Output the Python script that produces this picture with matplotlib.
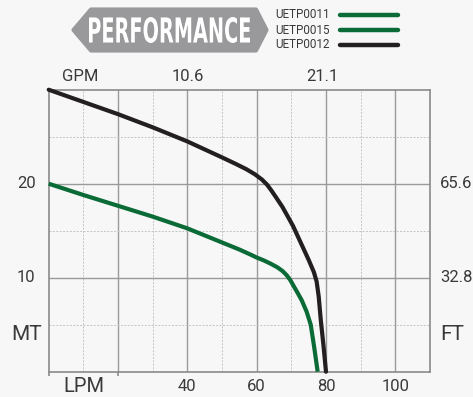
"""Pump performance chart: head (m / ft) against flow (LPM / GPM)."""

import matplotlib.pyplot as plt
from matplotlib.patches import Polygon, PathPatch
from matplotlib.textpath import TextPath
from matplotlib.font_manager import FontProperties
from matplotlib.transforms import Affine2D

# flow (LPM) and head (m)
flow_0015 = [0, 10, 20, 30, 40, 50, 55, 58, 60, 62, 64, 66, 67.5, 68.7, 69.7,
             70.7, 71.8, 73, 74.4, 75.6, 76.6, 77.6]
head_0015 = [20.0, 18.8, 17.65, 16.5, 15.25, 13.75, 13.0, 12.5, 12.15, 11.85, 11.5,
             11.1, 10.7, 10.25, 9.75, 9.1, 8.4, 7.6, 6.4, 5.0, 2.6, 0.0]
flow_0012 = [0, 10, 20, 30, 40, 50, 54, 57, 59.5, 61.5, 63, 64.2, 65.5, 67.4,
             69, 70.5, 72, 73.5, 75, 76.5, 77.3, 77.9, 78.5, 79.3, 80]
head_0012 = [30.0, 28.7, 27.4, 26.0, 24.5, 22.8, 22.1, 21.55, 21.0, 20.45, 19.9,
             19.3, 18.6, 17.55, 16.5, 15.5, 14.3, 13.1, 11.9, 10.6, 9.6, 8.0,
             5.5, 2.7, 0.0]

legend_labels = ["UETP0011", "UETP0015", "UETP0012"]
legend_colors = ["#0b6b37", "#0b6b37", "#231f20"]

lpm_ticks = [10, 40, 60, 80, 100]
lpm_labels = ["LPM", "40", "60", "80", "100"]
gpm_ticks = [9, 40, 79]
gpm_labels = ["GPM", "10.6", "21.1"]
mt_ticks = [20, 10, 4]
mt_labels = ["20", "10", "MT"]
ft_labels = ["65.6", "32.8", "FT"]

GREEN = "#0b6b37"
BLACK = "#231f20"
INK = "#3a3a3a"
BG = "#f7f7f7"

plt.rcParams["font.family"] = ["Roboto", "DejaVu Sans"]

fig = plt.figure(figsize=(4.73, 3.97), dpi=100, facecolor=BG)
ax = fig.add_axes([0.103, 0.0637, 0.806, 0.7103])
ax.set_facecolor(BG)
ax.set_xlim(0, 110)
ax.set_ylim(0, 30)

for x in range(10, 110, 20):
    ax.axvline(x, color="#c4c4c4", lw=0.7, ls=(0, (2, 1.5)), zorder=1)
for x in range(20, 110, 20):
    ax.axvline(x, color="#9a9a9a", lw=1.0, zorder=1)
for y in (5, 15, 25):
    ax.axhline(y, color="#c4c4c4", lw=0.7, ls=(0, (2, 1.5)), zorder=1)
for y in (10, 20):
    ax.axhline(y, color="#9a9a9a", lw=1.0, zorder=1)

for spine in ax.spines.values():
    spine.set_color("#8a8a8a")
    spine.set_linewidth(1.2)

ax.set_xticks([0, 20])
ax.set_xticklabels([])
ax.set_yticks([])
ax.tick_params(axis="x", length=3, color="#8a8a8a", width=1.2)

ax.plot(flow_0015, head_0015, color=GREEN, lw=3.0, solid_capstyle="butt",
        solid_joinstyle="round", clip_on=False, zorder=3)
ax.plot(flow_0012, head_0012, color=BLACK, lw=3.0, solid_capstyle="round",
        solid_joinstyle="round", clip_on=False, zorder=3)

for x, lab in zip(lpm_ticks, lpm_labels):
    ax.text(x, -1.6, lab, ha="center", va="center", color=INK,
            fontsize=14.5 if lab == "LPM" else 12)
for x, lab in zip(gpm_ticks, gpm_labels):
    ax.text(x, 31.4, lab, ha="center", va="center", color=INK, fontsize=12)
for y, lab in zip(mt_ticks, mt_labels):
    ax.text(-6.5, y, lab, ha="center", va="center", color=INK,
            fontsize=15 if lab == "MT" else 12)
for y, lab in zip(mt_ticks, ft_labels):
    ax.text(112.9, y, lab, ha="left", va="center", color=INK,
            fontsize=15 if lab == "FT" else 12)

# header banner and legend, drawn in pixel coordinates
ov = fig.add_axes([0, 0, 1, 1])
ov.set_xlim(0, 473)
ov.set_ylim(397, 0)
ov.axis("off")
ov.patch.set_alpha(0)

banner = Polygon([(73.5, 30), (91, 9.5), (256, 9.5), (266.5, 30), (256, 50.5), (91, 50.5)],
                 closed=True, facecolor="#99999b", edgecolor="#99999b",
                 lw=3, joinstyle="round")
ov.add_patch(banner)

tp = TextPath((0, 0), "PERFORMANCE", size=40,
              prop=FontProperties(family="Liberation Sans Narrow", weight="bold"))
ext = tp.get_extents()
sx = 161 / (ext.x1 - ext.x0)
sy = 26 / (ext.y1 - ext.y0)
tr = Affine2D().translate(-ext.x0, -ext.y0).scale(sx, -sy).translate(89, 43)
ov.add_patch(PathPatch(tr.transform_path(tp), facecolor="white", edgecolor="none"))

for i, (lab, col) in enumerate(zip(legend_labels, legend_colors)):
    yy = 15 + 15 * i
    ov.text(275, yy, lab, ha="left", va="center", color=INK, fontsize=8.4)
    ov.plot([340, 398], [yy, yy], color=col, lw=3.2, solid_capstyle="round")

fig.savefig("out.png", dpi=100, facecolor=BG)
